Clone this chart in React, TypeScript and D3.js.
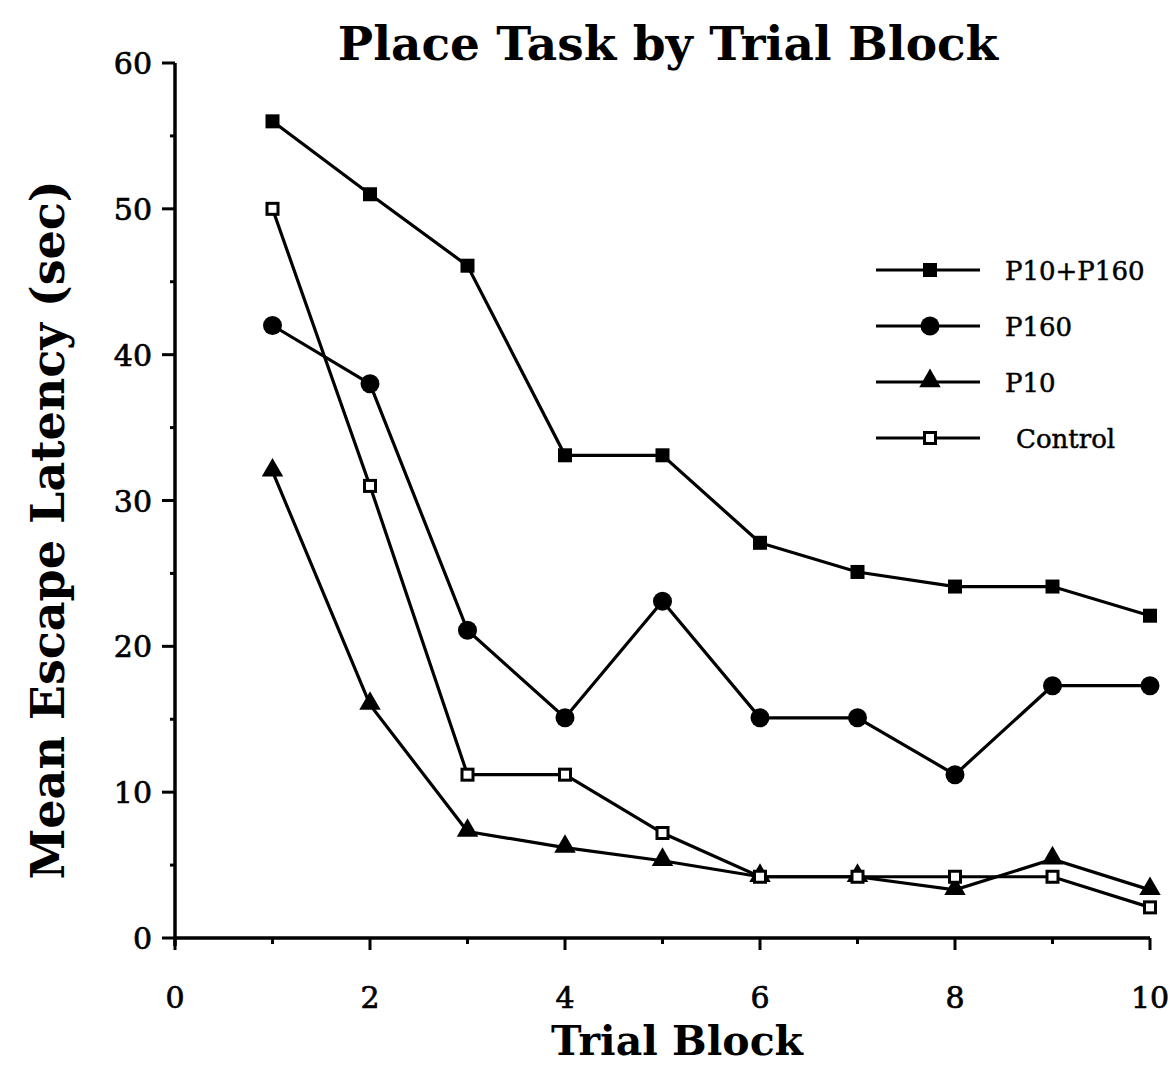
import React from "react";
import * as d3 from "d3";

const trialBlocks = [1, 2, 3, 4, 5, 6, 7, 8, 9, 10];
const p10p160 = [56, 51, 46.1, 33.1, 33.1, 27.1, 25.1, 24.1, 24.1, 22.1];
const p160 = [42, 38, 21.1, 15.1, 23.1, 15.1, 15.1, 11.2, 17.3, 17.3];
const p10 = [32, 16, 7.3, 6.2, 5.3, 4.2, 4.2, 3.3, 5.4, 3.3];
const control = [50, 31, 11.2, 11.2, 7.2, 4.2, 4.2, 4.2, 4.2, 2.1];
const seriesNames = ["P10+P160", "P160", "P10", "Control"];
const xTicks = [0, 2, 4, 6, 8, 10];
const yTicks = [0, 10, 20, 30, 40, 50, 60];

const FONT = "'DejaVu Serif', 'Liberation Serif', serif";

type Shape = "fsq" | "circle" | "tri" | "osq";

function Marker({ shape, x, y }: { shape: Shape; x: number; y: number }) {
  if (shape === "fsq") return <rect x={x - 7} y={y - 7} width={14} height={14} fill="#000" />;
  if (shape === "circle") return <circle cx={x} cy={y} r={9.5} fill="#000" />;
  if (shape === "tri") {
    const sym = d3.symbol().type(d3.symbolTriangle).size(200)();
    return <path d={sym || ""} transform={`translate(${x},${y - 1})`} fill="#000" />;
  }
  return <rect x={x - 5.5} y={y - 5.5} width={11} height={11} fill="#fff" stroke="#000" strokeWidth={3} />;
}

export default function App() {
  const W = 1171, H = 1067;
  const x = d3.scaleLinear().domain([0, 10]).range([175, 1150]);
  const y = d3.scaleLinear().domain([0, 60]).range([938, 63]);
  const line = d3.line<number>().x((_, i) => x(trialBlocks[i])).y((d) => y(d));

  const series: { name: string; values: number[]; shape: Shape }[] = [
    { name: seriesNames[0], values: p10p160, shape: "fsq" },
    { name: seriesNames[1], values: p160, shape: "circle" },
    { name: seriesNames[2], values: p10, shape: "tri" },
    { name: seriesNames[3], values: control, shape: "osq" },
  ];

  const minorX = d3.range(1, 10, 2);
  const minorY = d3.range(5, 60, 10);

  return (
    <svg width={W} height={H} style={{ position: "absolute", left: 0, top: 0, background: "#fff" }}>
      <rect x={0} y={0} width={W} height={H} fill="#fff" />
      <text x={668} y={60} textAnchor="middle" fontFamily={FONT} fontWeight="bold" fontSize={47}>
        Place Task by Trial Block
      </text>
      {/* axes */}
      <line x1={x(0)} x2={x(0)} y1={y(60)} y2={y(0) + 8} stroke="#000" strokeWidth={3.5} />
      <line x1={x(0)} x2={x(10)} y1={y(0)} y2={y(0)} stroke="#000" strokeWidth={3.5} />
      {yTicks.map((t) => (
        <g key={"yt" + t}>
          <line x1={x(0) - 13} x2={x(0)} y1={y(t)} y2={y(t)} stroke="#000" strokeWidth={3} />
          <text x={x(0) - 23} y={y(t) + 11} textAnchor="end" fontFamily={FONT} fontSize={30} stroke="#000" strokeWidth={0.7}>
            {t}
          </text>
        </g>
      ))}
      {minorY.map((t) => (
        <line key={"ym" + t} x1={x(0) - 5} x2={x(0)} y1={y(t)} y2={y(t)} stroke="#000" strokeWidth={3} />
      ))}
      {xTicks.map((t) => (
        <g key={"xt" + t}>
          <line x1={x(t)} x2={x(t)} y1={y(0)} y2={y(0) + 12} stroke="#000" strokeWidth={3} />
          <text x={x(t)} y={y(0) + 70} textAnchor="middle" fontFamily={FONT} fontSize={30} stroke="#000" strokeWidth={0.7}>
            {t}
          </text>
        </g>
      ))}
      {minorX.map((t) => (
        <line key={"xm" + t} x1={x(t)} x2={x(t)} y1={y(0)} y2={y(0) + 6} stroke="#000" strokeWidth={3} />
      ))}
      <text x={677} y={1055} textAnchor="middle" fontFamily={FONT} fontWeight="bold" fontSize={41}>
        Trial Block
      </text>
      <text
        transform={`translate(64,${530}) rotate(-90)`}
        textAnchor="middle"
        fontFamily={FONT}
        fontWeight="bold"
        fontSize={46}
      >
        Mean Escape Latency (sec)
      </text>
      {/* series */}
      {series.map((s) => (
        <g key={s.name}>
          <path d={line(s.values) || ""} fill="none" stroke="#000" strokeWidth={3.2} />
          {s.values.map((v, i) => (
            <Marker key={i} shape={s.shape} x={x(trialBlocks[i])} y={y(v)} />
          ))}
        </g>
      ))}
      {/* legend */}
      {series.map((s, i) => {
        const ly = 270 + i * 56;
        return (
          <g key={"lg" + s.name}>
            <line x1={876} x2={980} y1={ly} y2={ly} stroke="#000" strokeWidth={3.2} />
            <Marker shape={s.shape} x={930} y={ly} />
            <text x={i === 3 ? 1016 : 1005} y={ly + 10} fontFamily={FONT} fontSize={26} stroke="#000" strokeWidth={0.5}>
              {s.name}
            </text>
          </g>
        );
      })}
    </svg>
  );
}
